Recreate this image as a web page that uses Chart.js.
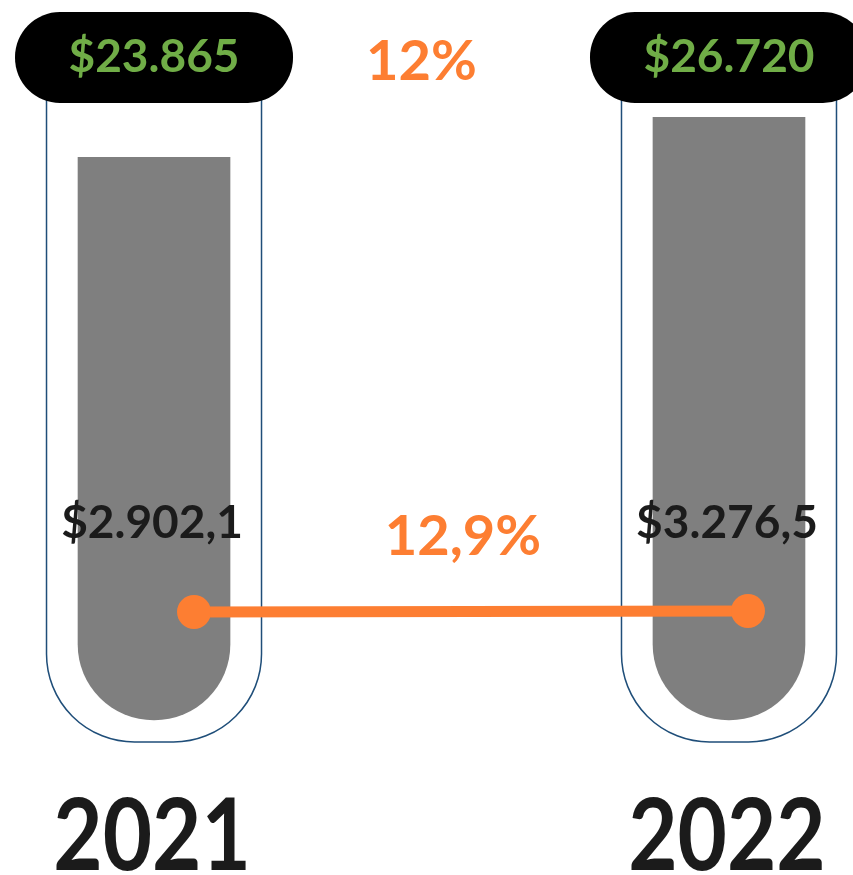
<!DOCTYPE html>
<html lang="es">
<head>
<meta charset="UTF-8">
<title>2021 vs 2022</title>
<script src="https://cdn.jsdelivr.net/npm/chart.js"></script>
<style>
  body { margin: 0; background: #fff; }
  .box { width: 853px; height: 875px; position: relative; }
</style>
</head>
<body>
<div class="box">
  <canvas id="grafico"></canvas>
</div>

<script>
// datos
const anios = ['2021', '2022'];
const totales = [23865, 26720];       // pastilla negra, barra gris
const parciales = [2902.1, 3276.5];   // linea naranja

const NARANJA = '#FD7E32';
const VERDE = '#70AD47';
const GRIS = '#7F7F7F';
const AZUL = '#1F4E79';
const NEGRO = '#1B1B1B';
const FUENTE = 'Lato, "Open Sans", sans-serif';

// 23865 -> "23.865" ; 2902.1 -> "2.902,1"
function fmt(v, dec) {
  const partes = v.toFixed(dec).split('.');
  const ent = partes[0].replace(/\B(?=(\d{3})+(?!\d))/g, '.');
  return partes.length > 1 ? ent + ',' + partes[1] : ent;
}
function crecimiento(arr, dec) {
  return fmt((arr[1] / arr[0] - 1) * 100, dec) + '%';
}

const dibujos = {
  id: 'dibujos',
  beforeDatasetsDraw(chart) {
    const ctx = chart.ctx;
    const barras = chart.getDatasetMeta(0).data;
    const area = chart.chartArea;
    ctx.save();
    barras.forEach(function (b) {
      const ancho = b.width + 63;
      ctx.beginPath();
      ctx.roundRect(b.x - ancho / 2, 80, ancho, area.bottom + 22 - 80, [0, 0, 88, 88]);
      ctx.fillStyle = '#fff';
      ctx.fill();
      ctx.lineWidth = 1.5;
      ctx.strokeStyle = AZUL;
      ctx.stroke();
    });
    ctx.restore();
  },
  afterDatasetsDraw(chart) {
    const ctx = chart.ctx;
    const barras = chart.getDatasetMeta(0).data;
    const puntos = chart.getDatasetMeta(1).data;
    ctx.save();
    ctx.textAlign = 'center';
    ctx.textBaseline = 'middle';

    barras.forEach(function (b, i) {
      // pastilla superior
      ctx.beginPath();
      ctx.roundRect(b.x - 139, 12, 278, 91, 45);
      ctx.fillStyle = '#000';
      ctx.fill();
      ctx.fillStyle = VERDE;
      ctx.font = 'bold 46px ' + FUENTE;
      ctx.fillText('$' + fmt(totales[i], 0), b.x, 57);

      // valor de la linea
      ctx.fillStyle = NEGRO;
      ctx.font = 'bold 46px ' + FUENTE;
      ctx.fillText('$' + fmt(parciales[i], 1), b.x - 2, 523);

      // anio (un poco estrecho, como la fuente original)
      ctx.save();
      ctx.translate(b.x - 2, 870);
      ctx.scale(0.86, 1);
      ctx.font = 'bold 99px ' + FUENTE;
      ctx.textBaseline = 'alphabetic';
      ctx.fillText(anios[i], 0, 0);
      ctx.restore();
    });

    ctx.fillStyle = NARANJA;
    ctx.font = 'bold 56px ' + FUENTE;
    ctx.fillText(crecimiento(totales, 0), (barras[0].x + barras[1].x) / 2 - 20, 62);
    ctx.fillText(crecimiento(parciales, 1), (puntos[0].x + puntos[1].x) / 2 - 8, 537);
    ctx.restore();
  }
};

new Chart(document.getElementById('grafico'), {
  type: 'bar',
  data: {
    labels: anios,
    datasets: [
      {
        label: 'Total',
        data: totales.map(function (v, i) { return { x: i, y: v }; }),
        backgroundColor: GRIS,
        barThickness: 152,
        grouped: false,
        base: -16300,
        borderSkipped: false,
        borderRadius: { topLeft: 0, topRight: 0, bottomLeft: 76, bottomRight: 76 },
        clip: false,
        order: 2
      },
      {
        type: 'line',
        label: 'Parcial',
        data: parciales.map(function (v, i) { return { x: i, y: v }; }),
        xAxisID: 'x2',
        yAxisID: 'y2',
        borderColor: NARANJA,
        borderWidth: 11,
        pointRadius: 17,
        pointBackgroundColor: NARANJA,
        pointBorderWidth: 0,
        clip: false,
        order: 1
      }
    ]
  },
  options: {
    responsive: true,
    maintainAspectRatio: false,
    animation: false,
    layout: { padding: { left: 40, right: 53, top: 100, bottom: 155 } },
    plugins: {
      legend: { display: false },
      tooltip: { enabled: false }
    },
    scales: {
      x: { type: 'linear', display: false, offset: false, min: -0.1983, max: 1.1235 },
      y: { display: false, min: -16300, max: 27950 },
      x2: { type: 'linear', display: false, offset: false, min: -0.278, max: 1.0939 },
      y2: { display: false, min: -37500, max: 194500 }
    }
  },
  plugins: [dibujos]
});
</script>
</body>
</html>
